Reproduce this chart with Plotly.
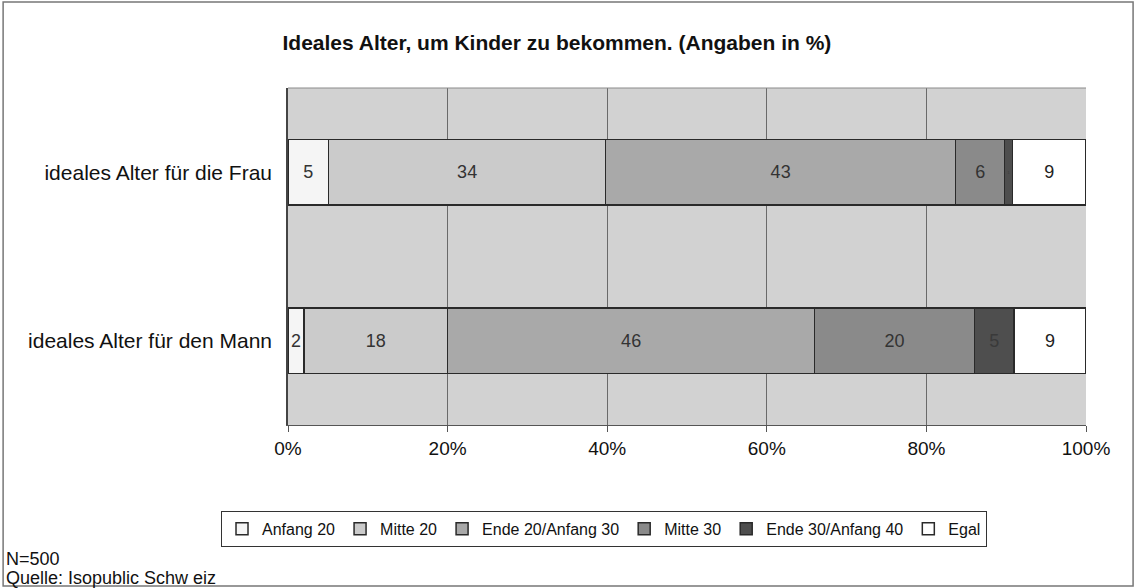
import plotly.graph_objects as go

categories = ["ideales Alter für die Frau", "ideales Alter für den Mann"]
series_names = ["Anfang 20", "Mitte 20", "Ende 20/Anfang 30", "Mitte 30", "Ende 30/Anfang 40", "Egal"]
frau_values = [5, 34, 43, 6, 1, 9]
mann_values = [2, 18, 46, 20, 5, 9]
tick_values = [0, 20, 40, 60, 80, 100]
tick_labels = ["0%", "20%", "40%", "60%", "80%", "100%"]

colors = ["#f5f5f5", "#cbcbcb", "#a9a9a9", "#8a8a8a", "#4e4e4e", "#ffffff"]
text_colors = ["#333333", "#333333", "#333333", "#333333", "#3a3a3a", "#222222"]

FONT = "Liberation Sans, Arial, sans-serif"

fig = go.Figure()
for i, name in enumerate(series_names):
    vals = [frau_values[i], mann_values[i]]
    fig.add_trace(go.Bar(
        y=categories,
        x=vals,
        name=name,
        orientation="h",
        marker=dict(color=colors[i], line=dict(color="#2a2a2a", width=1.5)),
        text=[str(v) for v in vals],
        textposition="inside",
        insidetextanchor="middle",
        textangle=0,
        textfont=dict(family=FONT, size=18, color=text_colors[i]),
        width=0.39,
    ))

fig.update_layout(
    width=1136,
    height=588,
    barmode="stack",
    barnorm="percent",
    paper_bgcolor="white",
    plot_bgcolor="#d2d2d2",
    margin=dict(l=288, r=50, t=88, b=163),
    font=dict(family=FONT, size=16, color="#111111"),
    title=dict(
        text="<b>Ideales Alter, um Kinder zu bekommen. (Angaben in %)</b>",
        x=0.337, xref="paper", xanchor="center", y=0.928, yanchor="middle",
        font=dict(family=FONT, size=21, color="#111111"),
    ),
    xaxis=dict(
        range=[0, 100],
        tickvals=tick_values,
        ticktext=tick_labels,
        showgrid=True,
        gridcolor="#6a6a6a",
        gridwidth=1,
        showline=True,
        linecolor="#555555",
        linewidth=1,
        ticks="outside",
        ticklen=6,
        tickcolor="#555555",
        tickfont=dict(family=FONT, size=19, color="#111111"),
        zeroline=False,
        fixedrange=True,
    ),
    yaxis=dict(
        autorange="reversed",
        showgrid=False,
        showline=True,
        linecolor="#444444",
        linewidth=1.5,
        ticks="",
        ticklabelstandoff=10,
        tickfont=dict(family=FONT, size=21, color="#111111"),
    ),
    showlegend=True,
    legend=dict(
        orientation="h",
        x=0.396, xanchor="center",
        y=-0.255, yanchor="top",
        bordercolor="#333333",
        borderwidth=1,
        bgcolor="white",
        font=dict(family=FONT, size=16, color="#111111"),
        itemwidth=30,
        traceorder="normal",
    ),
)

# top border of plot area
fig.add_shape(type="line", xref="paper", yref="paper", x0=0, x1=1, y0=1, y1=1,
              line=dict(color="#8a8a8a", width=1))

# outer frame
fig.add_shape(type="rect", xref="paper", yref="paper",
              x0=-0.357, x1=1.059, y0=-0.478, y1=1.255,
              line=dict(color="#777777", width=1.5), fillcolor="rgba(0,0,0,0)", layer="below")

fig.add_annotation(text="N=500", xref="paper", yref="paper", x=-0.357, y=-0.399,
                   xanchor="left", yanchor="middle", showarrow=False,
                   font=dict(family=FONT, size=18, color="#111111"), xshift=1)
fig.add_annotation(text="Quelle: Isopublic Schw eiz", xref="paper", yref="paper", x=-0.357, y=-0.453,
                   xanchor="left", yanchor="middle", showarrow=False,
                   font=dict(family=FONT, size=18, color="#111111"), xshift=1)

fig.write_html("out.html", post_script="document.body.style.margin='0';",
               config={"displayModeBar": False})
